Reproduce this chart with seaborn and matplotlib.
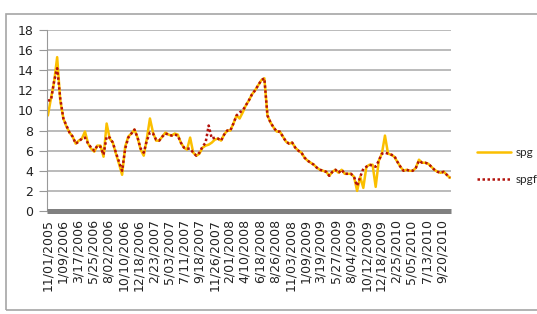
import pandas as pd
import matplotlib.pyplot as plt
import matplotlib.patches as mpatches
import seaborn as sns

# two-week samples, first point 11/01/2005
start_date = "2005-11-01"

spg = [9.5, 11.2, 12.8, 15.3, 11.0, 9.2, 8.4, 7.8, 7.4, 6.7,
       7.0, 7.2, 7.9, 6.7, 6.2, 5.9, 6.5, 6.5, 5.4, 8.7,
       7.2, 6.8, 5.7, 4.7, 3.6, 6.4, 7.4, 7.7, 8.1, 7.3,
       6.1, 5.5, 7.2, 9.2, 7.8, 7.0, 7.0, 7.4, 7.8, 7.6,
       7.5, 7.7, 7.6, 6.8, 6.3, 6.1, 7.3, 5.8, 5.5, 5.7,
       6.3, 6.5, 6.6, 6.8, 7.1, 7.2, 7.0, 7.6, 8.0, 8.0,
       8.7, 9.5, 9.2, 9.8, 10.5, 11.0, 11.6, 12.0, 12.5, 13.0,
       13.2, 9.5, 8.8, 8.3, 7.9, 7.9, 7.4, 6.9, 6.7, 6.8,
       6.3, 6.0, 5.8, 5.3, 5.0, 4.8, 4.6, 4.3, 4.1, 4.0,
       3.9, 3.5, 3.9, 4.1, 3.8, 4.1, 3.7, 3.7, 3.7, 3.4,
       2.0, 3.4, 2.3, 4.4, 4.6, 4.6, 2.4, 5.0, 5.7, 7.5,
       5.7, 5.6, 5.4, 4.9, 4.4, 4.0, 4.1, 4.0, 4.0, 4.3,
       5.1, 4.8, 4.8, 4.7, 4.4, 4.1, 3.9, 3.8, 3.9, 3.6,
       3.3]

spgf = [11.0, 11.0, 12.9, 14.2, 11.2, 9.2, 8.5, 7.8, 7.4, 6.7,
        6.9, 7.2, 7.3, 6.7, 6.3, 6.0, 6.5, 6.4, 5.6, 7.4,
        7.3, 6.8, 5.8, 4.9, 4.0, 6.2, 7.3, 7.7, 8.1, 7.3,
        6.2, 5.8, 7.0, 7.8, 7.7, 7.1, 7.0, 7.4, 7.7, 7.6,
        7.5, 7.6, 7.5, 6.8, 6.3, 6.2, 6.2, 5.8, 5.5, 5.8,
        6.4, 6.8, 8.5, 7.2, 7.3, 7.2, 7.0, 7.6, 8.0, 8.0,
        8.7, 9.5, 9.8, 10.0, 10.5, 11.0, 11.6, 12.0, 12.5, 13.0,
        13.2, 9.5, 8.8, 8.3, 7.9, 7.9, 7.4, 6.9, 6.7, 6.8,
        6.3, 6.0, 5.8, 5.3, 5.0, 4.8, 4.6, 4.3, 4.1, 4.0,
        3.9, 3.5, 3.9, 4.1, 3.8, 4.1, 3.7, 3.7, 3.7, 3.4,
        2.5, 3.4, 4.2, 4.4, 4.6, 4.5, 4.4, 5.0, 5.7, 5.8,
        5.7, 5.6, 5.5, 4.9, 4.4, 4.0, 4.1, 4.0, 4.0, 4.3,
        5.0, 4.8, 4.8, 4.7, 4.4, 4.1, 3.9, 3.8, 3.9, 3.6,
        3.3]

tick_labels = ["11/01/2005", "1/09/2006", "3/17/2006", "5/25/2006", "8/02/2006",
               "10/10/2006", "12/18/2006", "2/23/2007", "5/03/2007", "7/11/2007",
               "9/18/2007", "11/26/2007", "2/01/2008", "4/10/2008", "6/18/2008",
               "8/26/2008", "11/03/2008", "1/09/2009", "3/19/2009", "5/27/2009",
               "8/04/2009", "10/12/2009", "12/18/2009", "2/25/2010", "5/05/2010",
               "7/13/2010", "9/20/2010"]

dates = pd.date_range(start_date, periods=len(spg), freq="14D")
df = pd.DataFrame({"date": dates, "spg": spg, "spgf": spgf})

sns.set_style("white")
plt.rcParams["font.family"] = ["DejaVu Sans"]

fig = plt.figure(figsize=(5.37, 3.14), dpi=100)
ax = fig.add_axes([47 / 537, 103 / 314, 404 / 537, 181 / 314])

# outer chart border
fig.patches.append(mpatches.Rectangle((6 / 537, 4 / 314), 1.0, 296.5 / 314,
                                      transform=fig.transFigure, fill=False,
                                      edgecolor="#a6a6a6", linewidth=1.2, zorder=0))

sns.lineplot(data=df, x="date", y="spg", ax=ax, color="#fbbf00", linewidth=1.8,
             label="spg")
sns.lineplot(data=df, x="date", y="spgf", ax=ax, color="#b3120c", linewidth=1.8,
             linestyle=(0, (1, 1.0)), label="spgf")

ax.set_ylim(0, 18)
ax.set_yticks(range(0, 19, 2))
ax.set_xlim(pd.Timestamp("2005-10-28"), pd.Timestamp("2010-10-31"))
ax.set_xticks(pd.to_datetime(tick_labels, format="%m/%d/%Y"))
ax.set_xticklabels(tick_labels, rotation=90, fontsize=9, color="#222222")
ax.set_xlabel("")
ax.set_ylabel("")

ax.yaxis.grid(True, color="#a8a8a8", linewidth=1.1)
ax.set_axisbelow(True)
ax.tick_params(axis="y", labelsize=9, colors="#222222", length=6, width=0.8,
               left=True, pad=4)
ax.tick_params(axis="y", color="#999999")
ax.tick_params(axis="x", length=0, pad=6)

for side in ["top", "right"]:
    ax.spines[side].set_visible(False)
ax.spines["left"].set_color("#999999")
ax.spines["left"].set_linewidth(0.8)
ax.spines["bottom"].set_color("#808080")
ax.spines["bottom"].set_linewidth(3.6)
ax.spines["bottom"].set_capstyle("butt")

handles, labels = ax.get_legend_handles_labels()
ax.get_legend().remove()
fig.legend(handles, labels, loc="center left", bbox_to_anchor=(466 / 537, 1 - 166 / 314),
           frameon=False, handlelength=2.9, labelspacing=1.3, handletextpad=0.4,
           prop={"family": "Lato", "size": 8.5})

fig.savefig("out.png", dpi=100)
